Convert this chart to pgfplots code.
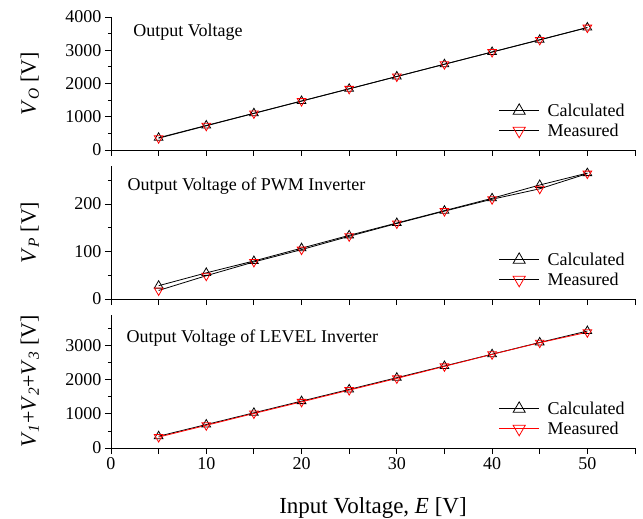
\documentclass[border=0pt]{standalone}
\usepackage{fontspec}
\setmainfont{Liberation Serif}
\usepackage{pgfplots}
\pgfplotsset{compat=1.18}
\tikzset{note/.style={anchor=west, font=\fontsize{18}{20}\selectfont}}
\begin{document}
\begin{tikzpicture}
\useasboundingbox (-111pt,17pt) rectangle (532pt,-502pt);
\pgfplotsset{panel/.style={
  scale only axis, width=524pt, height=133pt,
  xmin=0, xmax=55,
  axis lines*=left, axis line style={line width=0.9pt},
  tick align=outside, major tick length=6pt, minor tick length=3pt,
  every tick/.style={black, line width=0.9pt},
  xtick={0,5,...,55},
  tick label style={font=\fontsize{18}{20}\selectfont},
  /pgf/number format/assume math mode=true,
  scaled y ticks=false, yticklabel style={/pgf/number format/1000 sep={}},
  ylabel style={font=\fontsize{22}{24}\selectfont, at={(axis description cs:-0.155,0.5)}, anchor=center},
  legend style={draw=none, fill=none, font=\fontsize{18}{20}\selectfont, at={(axis description cs:0.99,0.06)}, anchor=south east, row sep=2pt, column sep=6pt},
  legend cell align=left,
  legend image code/.code={\draw[mark=none] (0pt,0pt) -- (40pt,0pt); \draw[mark repeat=2,mark phase=2,mark size=7pt] plot coordinates {(19pt,0pt) (20pt,0pt) (21pt,0pt)};},
  calc/.style={black, line width=0.8pt, mark=triangle, mark size=5pt, mark options={draw=black, fill=white, solid}},
  meas/.style={red, line width=0.8pt, mark=triangle, mark size=5pt, mark options={draw=red, fill=white, rotate=180, solid}},
}}
% Panel 1
\begin{axis}[panel, at={(0pt,0pt)}, anchor=north west,
  ymin=0, ymax=4000, ytick={0,1000,...,4000}, minor ytick={500,1500,2500,3500},
  xticklabels={},
  ylabel={\textit{V}\textsubscript{\textit{O}} [V]}]
\addplot[calc] coordinates {(5,368) (10,737) (15,1105) (20,1474) (25,1842) (30,2211) (35,2579) (40,2948) (45,3316) (50,3685)};
\addlegendentry{Calculated}
\addplot[meas, draw=black] coordinates {(5,355) (10,728) (15,1100) (20,1470) (25,1838) (30,2210) (35,2580) (40,2945) (45,3310) (50,3680)};
\addlegendentry{Measured}
\node[note] at (rel axis cs:0.036,0.888) {Output Voltage};
\end{axis}
% Panel 2
\begin{axis}[panel, at={(0pt,-149pt)}, anchor=north west,
  ymin=0, ymax=280, ytick={0,100,200}, minor ytick={50,150,250},
  xticklabels={},
  ylabel={\textit{V}\textsubscript{\textit{P}} [V]}]
\addplot[calc] coordinates {(5,28) (10,55) (15,80) (20,107) (25,134) (30,160) (35,186) (40,212) (45,240) (50,265)};
\addlegendentry{Calculated}
\addplot[meas, draw=black] coordinates {(5,18) (10,49) (15,78) (20,104) (25,132) (30,159) (35,185) (40,210) (45,232) (50,264)};
\addlegendentry{Measured}
\node[note] at (rel axis cs:0.025,0.85) {Output Voltage of PWM Inverter};
\end{axis}
% Panel 3
\begin{axis}[panel, at={(0pt,-298pt)}, anchor=north west,
  ymin=0, ymax=3900, ytick={0,1000,2000,3000}, minor ytick={500,1500,2500,3500},
  xticklabels={0,,10,,20,,30,,40,,50,},
  xlabel={Input Voltage, \textit{E} [V]},
  xlabel style={font=\fontsize{23}{25}\selectfont, yshift=-21pt},
  ylabel={\textit{V}\textsubscript{\textit{1}}+\textit{V}\textsubscript{\textit{2}}+\textit{V}\textsubscript{\textit{3}} [V]}]
\addplot[calc] coordinates {(5,345) (10,688) (15,1032) (20,1375) (25,1718) (30,2062) (35,2405) (40,2750) (45,3095) (50,3430)};
\addlegendentry{Calculated}
\addplot[meas] coordinates {(5,320) (10,665) (15,1012) (20,1353) (25,1697) (30,2041) (35,2394) (40,2747) (45,3088) (50,3394)};
\addlegendentry{Measured}
\node[note] at (rel axis cs:0.023,0.83) {Output Voltage of LEVEL Inverter};
\end{axis}
\end{tikzpicture}
\end{document}
